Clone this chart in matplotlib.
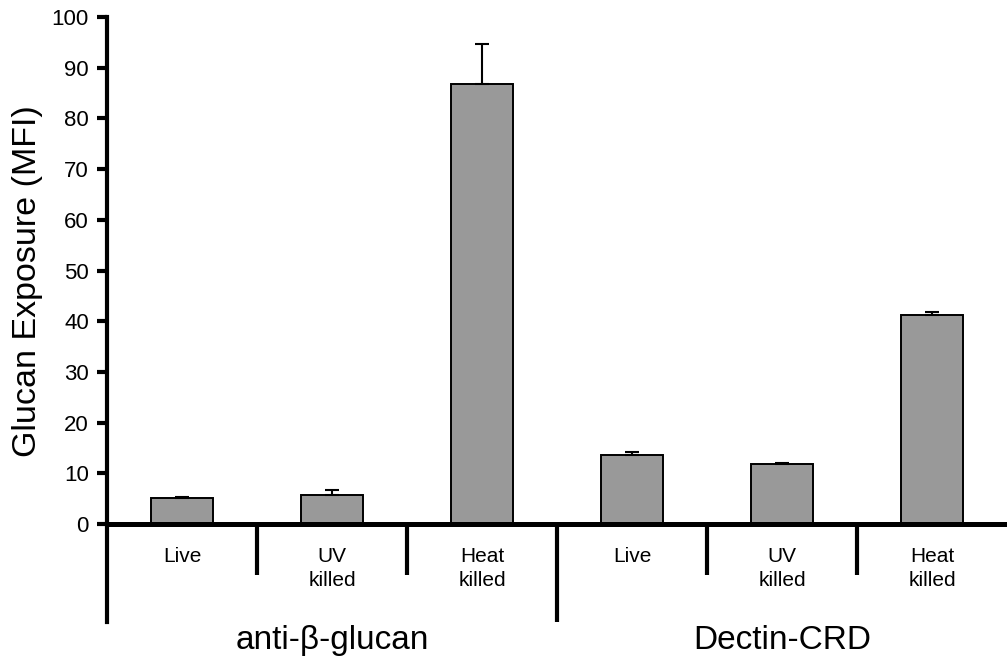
import matplotlib
matplotlib.use('Agg')
import matplotlib.pyplot as plt

plt.rcParams['font.family'] = ['Liberation Sans', 'DejaVu Sans']

# данные
conditions = ['Live', 'UV\nkilled', 'Heat\nkilled', 'Live', 'UV\nkilled', 'Heat\nkilled']
groups = ['anti-\u03b2-glucan', 'Dectin-CRD']
mfi = [5.1, 5.7, 86.8, 13.6, 11.9, 41.2]
mfi_err = [0.3, 1.0, 7.9, 0.7, 0.1, 0.6]

ylo = -19.3

fig = plt.figure(figsize=(10.07, 6.66), dpi=100)
ax = fig.add_axes([0.1063, 0.066, 0.8937, 0.9085])

x = list(range(len(mfi)))
ax.bar(x, mfi, width=0.41, color='#999999', edgecolor='black', linewidth=1.4, zorder=2)
ax.errorbar(x, mfi, yerr=[[0] * len(mfi), mfi_err], fmt='none', ecolor='black',
            elinewidth=1.5, capsize=5, capthick=1.5, zorder=3)

ax.set_xlim(-0.5, len(mfi) - 0.5)
ax.set_ylim(ylo, 100)

for s in ['top', 'right', 'bottom']:
    ax.spines[s].set_visible(False)
ax.spines['left'].set_linewidth(3)

ax.set_yticks(range(0, 101, 10))
ax.tick_params(axis='y', labelsize=16, length=7, width=3, pad=6)
ax.set_xticks([])
ax.set_ylabel('Glucan Exposure (MFI)', fontsize=24.5)
ax.yaxis.set_label_coords(-0.071, 0.564)

# ось x на уровне нуля
ax.axhline(0, color='black', linewidth=3.6, zorder=4)

# разделители категорий
for i in range(len(mfi) - 1):
    b = i + 0.5
    bottom = ylo if i == 2 else -10.1
    ax.plot([b, b], [0, bottom], color='black', linewidth=3, clip_on=False,
            solid_capstyle='butt')

for i, c in enumerate(conditions):
    ax.text(i, -4.6, c, ha='center', va='top', fontsize=15, linespacing=1.3)

for j, g in enumerate(groups):
    ax.text(1 + 3 * j, -22.9, g, ha='center', va='center', fontsize=24, clip_on=False)

fig.savefig('out.png', dpi=100)
